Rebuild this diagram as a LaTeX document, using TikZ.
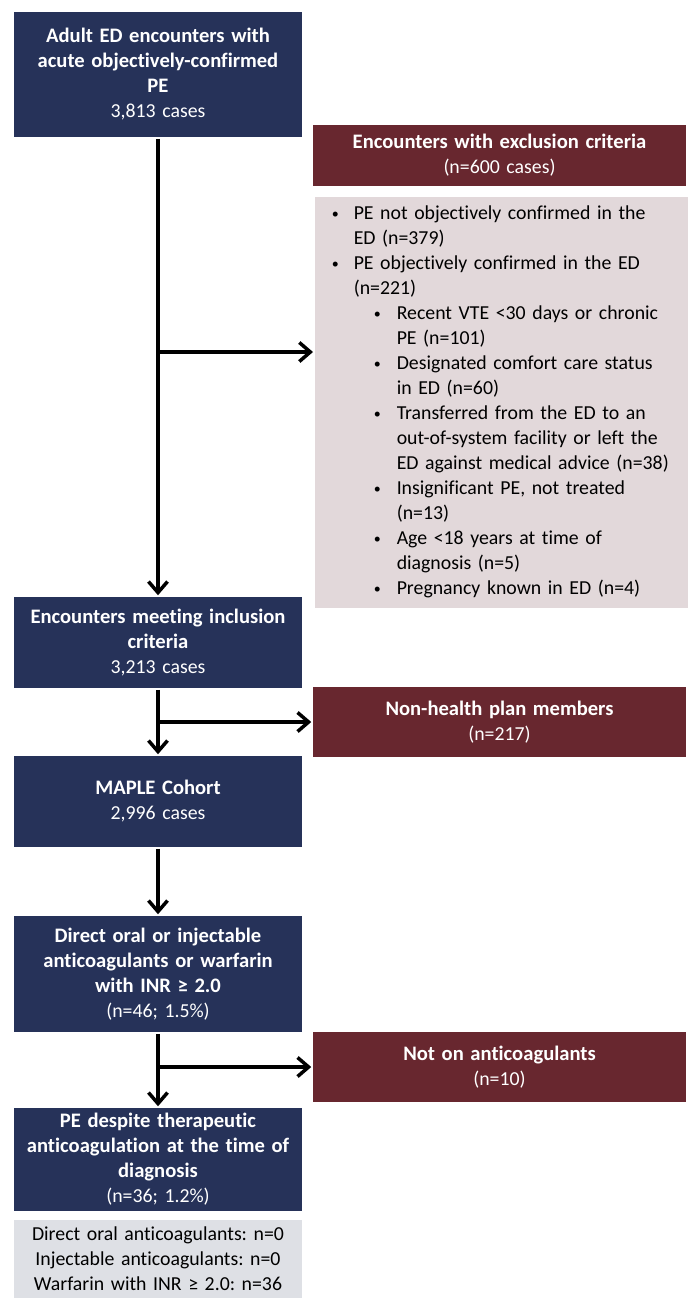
\documentclass[tikz,border=0pt]{standalone}
\usepackage{fontspec}
\setmainfont{Carlito}[Ligatures=NoCommon]
\usetikzlibrary{arrows.meta,positioning}
\frenchspacing

\definecolor{navy}{HTML}{263259}
\definecolor{maroon}{HTML}{68272F}
\definecolor{pinkgrey}{HTML}{E2D8DA}
\definecolor{bluegrey}{HTML}{DEE0E5}

\newcommand{\hd}[1]{{\fontsize{20.6}{25}\selectfont\bfseries #1}}
\newcommand{\dotb}{\raisebox{1.6pt}{\fontsize{14}{14}\selectfont\textbullet}}
\newcommand{\lia}{\hspace*{17pt}\makebox[22pt][l]{\dotb}}
\newcommand{\lib}{\hspace*{59pt}\makebox[23pt][l]{\dotb}}
\newcommand{\cona}{\hspace*{39pt}}
\newcommand{\conb}{\hspace*{82pt}}

\begin{document}
\begin{tikzpicture}[x=1pt,y=-1pt,->,>={Straight Barb[length=11pt,width=19pt]},
                    line width=3.5pt,
                    font=\fontsize{19.8}{25}\selectfont,
                    every node/.style={inner sep=0pt,align=center},
                    mainbox/.style={fill=navy,text=white,minimum width=288pt,text width=286pt},
                    exclbox/.style={fill=maroon,text=white,minimum width=373pt,text width=371pt}]

  \useasboundingbox (0,0) rectangle (689,1298);

  \node[mainbox,minimum height=125pt] (all)     at (158,74.5)  {\hd{Adult ED encounters with}\\\hd{acute objectively-confirmed}\\\hd{PE}\\3,813 cases};
  \node[exclbox,minimum height=61pt]  (excl)    at (499.5,155.5) {\hd{Encounters with exclusion criteria}\\(n=600 cases)};
  \node[fill=pinkgrey,minimum width=373pt,minimum height=411pt,text width=373pt,align=left,
        anchor=north west]            (list)    at (313,195)   {\lia PE not objectively confirmed in the\\
                                                                \cona ED (n=379)\\
                                                                \lia PE objectively confirmed in the ED\\
                                                                \cona (n=221)\\
                                                                \lib Recent VTE <30 days or chronic\\
                                                                \conb PE (n=101)\\
                                                                \lib Designated comfort care status\\
                                                                \conb in ED (n=60)\\
                                                                \lib Transferred from the ED to an\\
                                                                \conb out-of-system facility or left the\\
                                                                \conb ED against medical advice (n=38)\\
                                                                \lib Insignificant PE, not treated\\
                                                                \conb (n=13)\\
                                                                \lib Age <18 years at time of\\
                                                                \conb diagnosis (n=5)\\
                                                                \lib Pregnancy known in ED (n=4)};
  \node[mainbox,minimum height=91pt]  (incl)    at (158,642.5) {\hd{Encounters meeting inclusion}\\\hd{criteria}\\3,213 cases};
  \node[exclbox,minimum height=70pt]  (nonplan) at (499.5,722) {\hd{Non-health plan members}\\(n=217)};
  \node[mainbox,minimum height=91pt]  (cohort)  at (158,801.5) {\hd{MAPLE Cohort}\\2,996 cases};
  \node[mainbox,minimum height=116pt] (anti)    at (158,974)   {\hd{Direct oral or injectable}\\\hd{anticoagulants or warfarin}\\\hd{with INR ≥ 2.0}\\(n=46; 1.5\%)};
  \node[exclbox,minimum height=70pt]  (notanti) at (499.5,1067) {\hd{Not on anticoagulants}\\(n=10)};
  \node[mainbox,minimum height=103pt] (desp)    at (158,1159.5) {\hd{PE despite therapeutic}\\\hd{anticoagulation at the time of}\\\hd{diagnosis}\\(n=36; 1.2\%)};
  \node[mainbox,fill=bluegrey,text=black,minimum height=78pt] (types) at (158,1259) {Direct oral anticoagulants: n=0\\Injectable anticoagulants: n=0\\Warfarin with INR ≥ 2.0: n=36};

  \coordinate (b1) at (158,352);
  \coordinate (b2) at (incl.south |- nonplan.west);
  \coordinate (b3) at (anti.south |- notanti.west);

  \path (all)    edge (incl)
        (b1)     edge (b1 -| list.west)
        (incl)   edge (cohort)
        (b2)     edge (nonplan)
        (cohort) edge (anti)
        (anti)   edge (desp)
        (b3)     edge (notanti);
\end{tikzpicture}
\end{document}
